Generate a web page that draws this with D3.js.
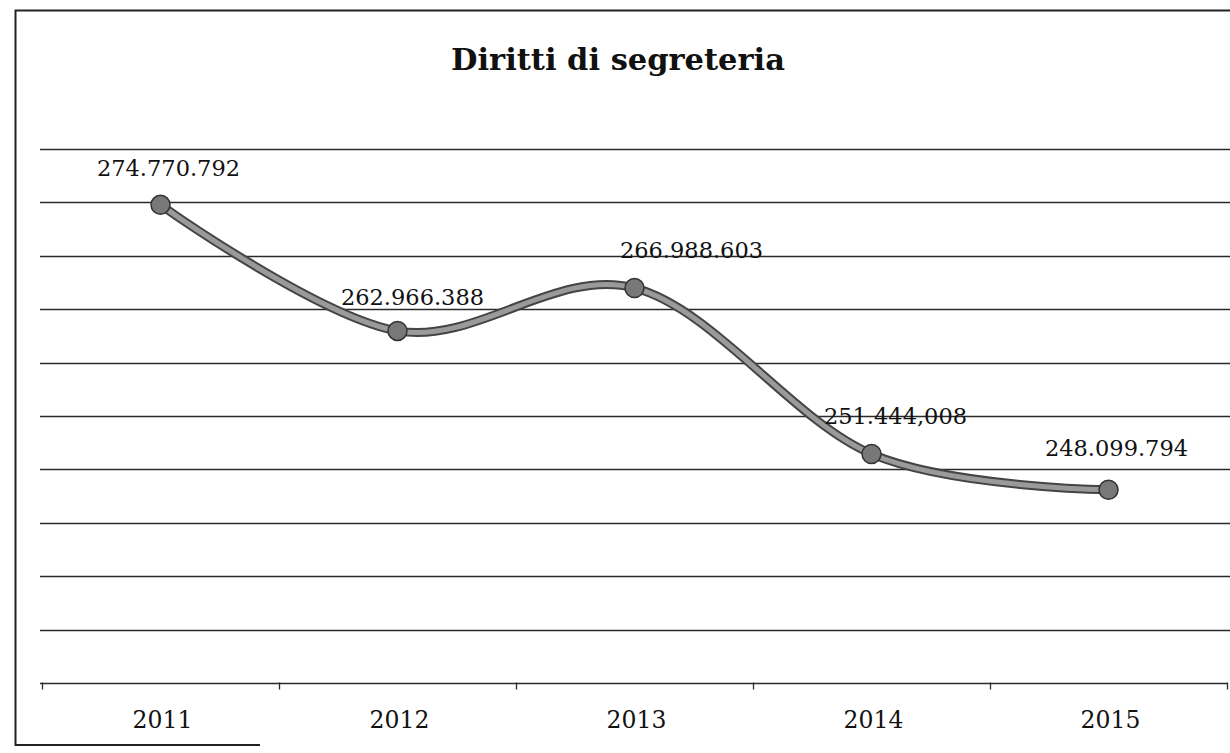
<!DOCTYPE html>
<html>
<head>
<meta charset="utf-8">
<script src="https://cdn.jsdelivr.net/npm/d3@7/dist/d3.min.js"></script>
<style>
  html, body { margin: 0; padding: 0; background: #fff; }
  svg { display: block; }
</style>
</head>
<body>
<svg id="chart" width="1230" height="753"></svg>
<script>
// Series: annual revenue from secretarial fees (euro)
const years = ["2011", "2012", "2013", "2014", "2015"];
const values = [274770792, 262966388, 266988603, 251444008, 248099794];
const valueLabels = ["274.770.792", "262.966.388", "266.988.603", "251.444,008", "248.099.794"];
// Gridline values (every 5 million from 230M to 280M)
const gridValues = d3.range(230000000, 280000001, 5000000);

// Hand-placed offsets of the data labels relative to their points
const labelDx = [8, 15, 57, 24, 8];
const labelDy = [-29, -26, -30, -30, -34];

const svg = d3.select("#chart");
const W = 1230, H = 753;

const x = d3.scaleBand().domain(years).range([42, 1227]);
const y = d3.scaleLinear().domain([230000000, 280000000]).range([683, 149]);
const cx = d => x(d) + x.bandwidth() / 2;

// Outer frame (left, top, and the visible bit of the bottom edge)
svg.append("path")
  .attr("d", `M 260 745 L 15.5 745 L 15.5 10.5 L ${W} 10.5`)
  .attr("fill", "none")
  .attr("stroke", "#222")
  .attr("stroke-width", 2);

// Title
svg.append("text")
  .attr("x", 618)
  .attr("y", 70)
  .attr("text-anchor", "middle")
  .attr("font-family", "DejaVu Serif")
  .attr("font-weight", "bold")
  .attr("font-size", 30.5)
  .attr("fill", "#111")
  .text("Diritti di segreteria");

// Horizontal gridlines
svg.append("g")
  .selectAll("line")
  .data(gridValues.filter(v => v > 230000000))
  .join("line")
  .attr("x1", 40)
  .attr("x2", W)
  .attr("y1", d => Math.round(y(d)) + 0.5)
  .attr("y2", d => Math.round(y(d)) + 0.5)
  .attr("stroke", "#2a2a2a")
  .attr("stroke-width", 1.3);

// Category axis
const xAxis = svg.append("g")
  .attr("transform", `translate(0, ${Math.round(y(230000000)) + 0.5})`);
xAxis.append("line")
  .attr("x1", 40).attr("x2", 1227)
  .attr("stroke", "#2a2a2a").attr("stroke-width", 1.3);
const bounds = years.map(d => x(d)).concat([x.range()[1]]);
xAxis.selectAll("line.tick")
  .data(bounds)
  .join("line")
  .attr("class", "tick")
  .attr("x1", d => Math.round(d) + 0.5)
  .attr("x2", d => Math.round(d) + 0.5)
  .attr("y1", -1)
  .attr("y2", 6)
  .attr("stroke", "#2a2a2a")
  .attr("stroke-width", 1.3);
xAxis.selectAll("text")
  .data(years)
  .join("text")
  .attr("x", d => cx(d) + 2)
  .attr("y", 44)
  .attr("text-anchor", "middle")
  .attr("font-family", "DejaVu Serif")
  .attr("font-size", 23.5)
  .attr("fill", "#111")
  .text(d => d);

// Smoothed series line
const pts = years.map((yr, i) => [cx(yr), y(values[i])]);
const line = d3.line().curve(d3.curveCardinal.tension(0));
svg.append("path")
  .attr("d", line(pts))
  .attr("fill", "none")
  .attr("stroke", "#444")
  .attr("stroke-width", 9)
  .attr("stroke-linecap", "round");
svg.append("path")
  .attr("d", line(pts))
  .attr("fill", "none")
  .attr("stroke", "#9a9a9a")
  .attr("stroke-width", 5)
  .attr("stroke-linecap", "round");

// Markers
svg.append("g")
  .selectAll("circle")
  .data(pts)
  .join("circle")
  .attr("cx", d => d[0])
  .attr("cy", d => d[1])
  .attr("r", 9.5)
  .attr("fill", "#787878")
  .attr("stroke", "#333")
  .attr("stroke-width", 1.5);

// Data labels
svg.append("g")
  .selectAll("text")
  .data(pts)
  .join("text")
  .attr("x", (d, i) => d[0] + labelDx[i])
  .attr("y", (d, i) => d[1] + labelDy[i])
  .attr("text-anchor", "middle")
  .attr("font-family", "DejaVu Serif")
  .attr("font-size", 22.5)
  .attr("fill", "#111")
  .text((d, i) => valueLabels[i]);
</script>
</body>
</html>
